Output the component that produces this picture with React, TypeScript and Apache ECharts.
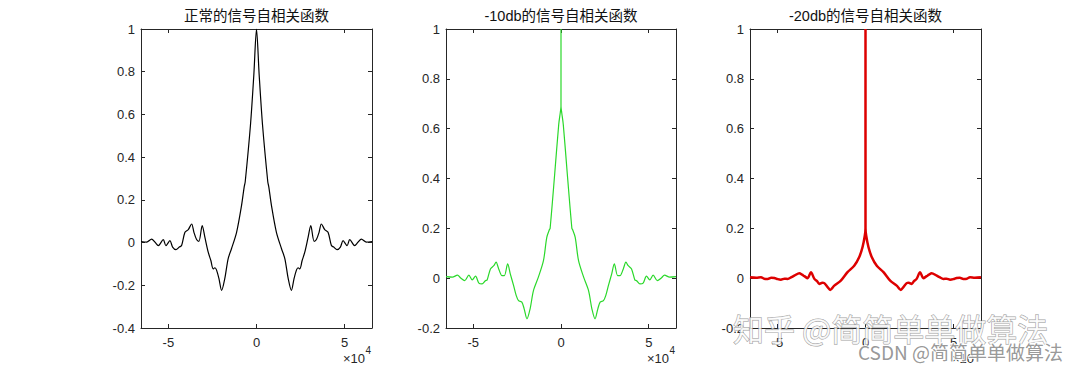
import React, { useEffect, useRef } from "react";
import * as echarts from "echarts";

// ---------- data ----------
const LAG_MAX = 65535;
const xTickValues = [-50000, 0, 50000];

const titles = ["正常的信号自相关函数", "-10db的信号自相关函数", "-20db的信号自相关函数"];
const yMins = [-0.4, -0.2, -0.2];

const lags1 = [
  -65535, -62300, -59500, -57600, -55700, -52900, -51400, -49100, -47600, -45700,
  -43800, -42500, -40600, -38700, -36800, -35500, -34000, -32700, -30800, -29300,
  -27400, -25900, -24600, -23600, -22700, -21300, -19800, -18000, -16100, -14200,
  -11300, -8500, -7000, -6400, -3400, -1500, 0,
  1500, 3400, 6400, 7000, 8500, 11300, 14200, 16100, 18000, 19800,
  21300, 22700, 23600, 24600, 25900, 27400, 29300, 30800, 32700, 34000,
  35500, 36800, 38700, 40600, 42500, 43800, 45700, 47600, 49100, 51400,
  52900, 55700, 57600, 59500, 62300, 65535,
];
const vals1 = [
  0.005, 0.002, 0.016, 0.002, -0.014, 0.014, -0.014, 0.009, -0.021, -0.033,
  -0.021, -0.014, 0.048, 0.061, 0.087, 0.048, 0.014, 0.006, 0.079, 0.025,
  -0.045, -0.084, -0.123, -0.118, -0.128, -0.169, -0.224, -0.169, -0.076, -0.029,
  0.048, 0.173, 0.26, 0.285, 0.553, 0.787, 1.0,
  0.787, 0.553, 0.285, 0.26, 0.173, 0.048, -0.029, -0.076, -0.169, -0.224,
  -0.169, -0.128, -0.118, -0.123, -0.084, -0.045, 0.025, 0.079, 0.006, 0.014,
  0.048, 0.087, 0.061, 0.048, -0.014, -0.021, -0.033, -0.021, 0.009, -0.014,
  0.014, -0.014, 0.002, 0.016, 0.002, 0.005,
];

const lags2 = [
  -65535, -61900, -59000, -57200, -54900, -52500, -50600, -48700, -46800, -45000,
  -43100, -42100, -40200, -38300, -37000, -35500, -33600, -32300, -30400, -28900,
  -27000, -25500, -24200, -22300, -21000, -19400, -17600, -15700, -12900, -10000,
  -8100, -6600, -6200, -3600, -1300, -400, -1, 0,
  1, 400, 1300, 3600, 6200, 6600, 8100, 10000, 12900, 15700,
  17600, 19400, 21000, 22300, 24200, 25500, 27000, 28900, 30400, 32300,
  33600, 35500, 37000, 38300, 40200, 42100, 43100, 45000, 46800, 48700,
  50600, 52500, 54900, 57200, 59000, 61900, 65535,
];
const vals2 = [
  0.006, 0.004, 0.012, 0.001, -0.01, 0.012, -0.007, 0.008, -0.02, -0.023,
  -0.01, -0.007, 0.037, 0.05, 0.064, 0.037, 0.01, 0.01, 0.057, 0.017,
  -0.03, -0.07, -0.09, -0.096, -0.123, -0.163, -0.123, -0.05, 0.004, 0.07,
  0.164, 0.195, 0.2, 0.417, 0.617, 0.665, 0.69, 1.0,
  0.69, 0.665, 0.617, 0.417, 0.2, 0.195, 0.164, 0.07, 0.004, -0.05,
  -0.123, -0.163, -0.123, -0.096, -0.09, -0.07, -0.03, 0.017, 0.057, 0.01,
  0.01, 0.037, 0.064, 0.05, 0.037, -0.007, -0.01, -0.023, -0.02, 0.008,
  -0.007, 0.012, -0.01, 0.001, 0.012, 0.004, 0.006,
];

const lags3 = [
  -65535, -62000, -59300, -57500, -55500, -53500, -51700, -49800, -48000, -46000,
  -44200, -42000, -40400, -37500, -36000, -34700, -32800, -31000, -29000, -27500,
  -26200, -24500, -23400, -21500, -20000, -17700, -14000, -10200, -6400, -3600,
  -1700, -400, -1, 0,
  1, 400, 1700, 3600, 6400, 10200, 14000, 17700, 20000, 21500,
  23400, 24500, 26200, 27500, 29000, 31000, 32800, 34700, 36000, 37500,
  40400, 42000, 44200, 46000, 48000, 49800, 51700, 53500, 55500, 57500,
  59300, 62000, 65535,
];
const vals3 = [
  0.004, 0.002, 0.004, -0.002, -0.003, 0.002, 0.001, -0.004, -0.006, -0.002,
  -0.003, 0.004, 0.01, 0.02, 0.014, 0.008, 0.0, 0.024, -0.003, -0.012,
  -0.023, -0.018, -0.02, -0.036, -0.047, -0.03, -0.01, 0.024, 0.05, 0.084,
  0.124, 0.17, 0.2, 1.0,
  0.2, 0.17, 0.124, 0.084, 0.05, 0.024, -0.01, -0.03, -0.047, -0.036,
  -0.02, -0.018, -0.023, -0.012, -0.003, 0.024, 0.0, 0.008, 0.014, 0.02,
  0.01, 0.004, -0.003, -0.002, -0.006, -0.004, 0.001, 0.002, -0.003, -0.002,
  0.004, 0.002, 0.004,
];

const seriesLags = [lags1, lags2, lags3];
const seriesVals = [vals1, vals2, vals3];
const seriesColors = ["#000000", "#2ad82a", "#dd0000"];
const seriesWidths = [1.2, 1.2, 2.5];

// ---------- layout ----------
const grids = [
  { left: 141, top: 29, width: 231, height: 299 },
  { left: 446, top: 29, width: 230, height: 299 },
  { left: 750, top: 29, width: 231, height: 299 },
];

const AXIS_COLOR = "#262626";
const LABEL_FONT = "'Liberation Sans', Arial, sans-serif";
const CJK_FONT = "'Liberation Sans', 'Noto Sans CJK SC', sans-serif";

export default function App() {
  const ref = useRef<HTMLDivElement>(null);

  useEffect(() => {
    if (!ref.current) return;
    const chart = echarts.init(ref.current, undefined, { renderer: "svg" });

    const xAxis: any[] = [];
    const yAxis: any[] = [];
    const series: any[] = [];
    const graphic: any[] = [];

    grids.forEach((g, i) => {
      const lineStyle = { color: AXIS_COLOR, width: 1 };
      const xCommon = {
        type: "value",
        gridIndex: i,
        min: -LAG_MAX,
        max: LAG_MAX,
        splitLine: { show: false },
        axisLine: { show: true, onZero: false, lineStyle },
        axisTick: { show: true, inside: true, length: 4, customValues: xTickValues, lineStyle },
      };
      xAxis.push({
        ...xCommon,
        position: "bottom",
        axisLabel: {
          show: true,
          customValues: xTickValues,
          formatter: (v: number) => String(v / 10000),
          color: AXIS_COLOR,
          fontSize: 13,
          fontFamily: LABEL_FONT,
          margin: 8,
        },
      });
      xAxis.push({ ...xCommon, position: "top", axisLabel: { show: false } });

      const yCommon = {
        type: "value",
        gridIndex: i,
        min: yMins[i],
        max: 1,
        interval: 0.2,
        splitLine: { show: false },
        axisLine: { show: true, onZero: false, lineStyle },
        axisTick: { show: true, inside: true, length: 4, lineStyle },
      };
      yAxis.push({
        ...yCommon,
        position: "left",
        axisLabel: {
          show: true,
          color: AXIS_COLOR,
          fontSize: 13,
          fontFamily: LABEL_FONT,
          margin: 6,
        },
      });
      yAxis.push({ ...yCommon, position: "right", axisLabel: { show: false } });

      const lags = seriesLags[i];
      const vals = seriesVals[i];
      series.push({
        type: "line",
        xAxisIndex: 2 * i,
        yAxisIndex: 2 * i,
        data: lags.map((l, k) => [l, vals[k]]),
        showSymbol: false,
        symbol: "none",
        smooth: 0.3,
        lineStyle: { color: seriesColors[i], width: seriesWidths[i] },
        clip: true,
      });

      const cx = g.left + g.width / 2;
      const right = g.left + g.width;
      graphic.push({
        type: "text",
        x: cx,
        y: 16,
        style: {
          text: titles[i],
          fill: "#111",
          font: `14.5px ${CJK_FONT}`,
          align: "center",
          verticalAlign: "middle",
        },
      });
      graphic.push({
        type: "text",
        x: right - 7,
        y: 358,
        style: {
          text: "×10",
          fill: AXIS_COLOR,
          font: `13px ${LABEL_FONT}`,
          align: "right",
          verticalAlign: "middle",
        },
      });
      graphic.push({
        type: "text",
        x: right - 6.5,
        y: 350,
        style: {
          text: "4",
          fill: AXIS_COLOR,
          font: `10px ${LABEL_FONT}`,
          align: "left",
          verticalAlign: "middle",
        },
      });
    });

    // watermarks
    graphic.push({
      type: "text",
      x: 733,
      y: 327,
      z: 100,
      style: {
        text: "知乎 @简简单单做算法",
        fill: "rgba(255,255,255,0.8)",
        stroke: "rgba(130,130,130,0.8)",
        lineWidth: 1,
        font: "31px 'Noto Sans CJK SC', sans-serif",
        align: "left",
        verticalAlign: "middle",
      },
    });
    graphic.push({
      type: "text",
      x: 858,
      y: 351,
      z: 100,
      style: {
        text: "CSDN @简简单单做算法",
        fill: "rgba(140,140,140,0.9)",
        stroke: "rgba(255,255,255,0.9)",
        lineWidth: 2,
        font: "19px 'Noto Sans CJK SC', sans-serif",
        align: "left",
        verticalAlign: "middle",
      },
    });

    chart.setOption({
      animation: false,
      backgroundColor: "#ffffff",
      grid: grids.map((g) => ({ ...g, containLabel: false })),
      xAxis,
      yAxis,
      series,
      graphic,
    });

    return () => chart.dispose();
  }, []);

  return (
    <div
      ref={ref}
      style={{ position: "fixed", left: 0, top: 0, width: 1085, height: 373, background: "#fff" }}
    />
  );
}
